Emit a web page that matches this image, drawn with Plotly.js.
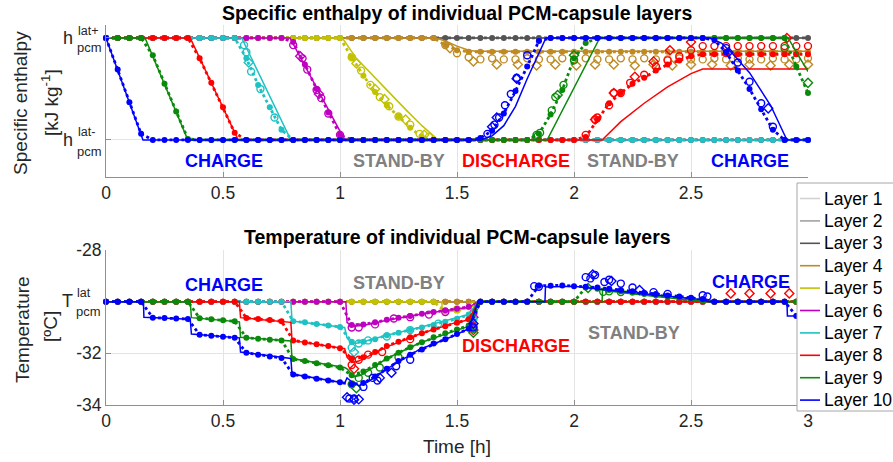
<!DOCTYPE html>
<html>
<head>
<meta charset="utf-8">
<script src="https://cdn.plot.ly/plotly-3.0.1.min.js"></script>
<style>
html, body { margin: 0; padding: 0; background: #fff; overflow: hidden; }
#chart { width: 893px; height: 462px; }
</style>
</head>
<body>
<div id="chart"></div>
<script>
// ---------------------------------------------------------------
// Layers of the PCM capsule stack
// ---------------------------------------------------------------
const layerNames = ['Layer 1', 'Layer 2', 'Layer 3', 'Layer 4', 'Layer 5',
                    'Layer 6', 'Layer 7', 'Layer 8', 'Layer 9', 'Layer 10'];
const layerColors = ['#d2d2d2', '#a3a3a3', '#545454', '#bf8a22', '#c2c200',
                     '#c000c0', '#1ec2c2', '#ff0000', '#0a8a0a', '#0000ff'];

// time axis (hours)
const xTickVals = [0, 0.5, 1, 1.5, 2, 2.5, 3];

// sampling instants of the measured series (h)
const timeGrid = [0, 0.05, 0.1, 0.15, 0.2, 0.25, 0.3, 0.35, 0.4, 0.45,
  0.5, 0.55, 0.6, 0.65, 0.7, 0.75, 0.8, 0.85, 0.9, 0.95,
  1, 1.05, 1.1, 1.15, 1.2, 1.25, 1.3, 1.35, 1.4, 1.45,
  1.5, 1.55, 1.6, 1.65, 1.7, 1.75, 1.8, 1.85, 1.9, 1.95,
  2, 2.05, 2.1, 2.15, 2.2, 2.25, 2.3, 2.35, 2.4, 2.45,
  2.5, 2.55, 2.6, 2.65, 2.7, 2.75, 2.8, 2.85, 2.9, 2.95, 3];

// ---------------------------------------------------------------
// Specific enthalpy, normalised: 0 = h_pcm^lat-, 1 = h_pcm^lat+
// ---------------------------------------------------------------
// simulated (model) curves: breakpoints per layer
const hModelTime = [
  [0, 3],
  [0, 3],
  [0, 3],
  [0, 1.41, 1.45, 1.5, 1.55, 1.58, 3],
  [0, 1.01, 1.07, 1.14, 1.21, 1.28, 1.35, 1.42, 3],
  [0, 0.786, 1.02, 3],
  [0, 0.58, 0.79, 3],
  [0, 0.36, 0.565, 2.12, 2.2, 2.3, 2.4, 2.5, 2.55, 3],
  [0, 0.167, 0.35, 1.885, 2.11, 2.915, 3],
  [0, 0.158, 1.6, 1.65, 1.7, 1.75, 1.8, 1.84, 1.88, 2.58, 2.63, 2.68, 2.75, 2.84, 2.91, 3]
];
const hModelValue = [
  [1, 1],
  [1, 1],
  [1, 1],
  [1, 1, 0.97, 0.92, 0.88, 0.87, 0.87],
  [1, 1, 0.8, 0.63, 0.47, 0.3, 0.14, 0, 0],
  [1, 1, 0, 0],
  [1, 1, 0, 0],
  [1, 1, 0, 0, 0.18, 0.36, 0.52, 0.65, 0.695, 0.695],
  [1, 1, 0, 0, 1, 1, 0.67],
  [1, 0, 0, 0.04, 0.14, 0.33, 0.6, 0.8, 1, 1, 0.95, 0.84, 0.66, 0.34, 0, 0]
];

// measured enthalpy on timeGrid (layers 1-2 not shown)
const hMeasured = [
  null,
  null,
  [1, 1, 1, 1, 1, 1, 1, 1, 1, 1,
   1, 1, 1, 1, 1, 1, 1, 1, 1, 1,
   1, 1, 1, 1, 1, 1, 1, 1, 1, 1,
   1, 1, 1, 1, 1, 1, 1, 1, 1, 1,
   1, 1, 1, 1, 1, 1, 1, 1, 1, 1,
   1, 1, 1, 1, 1, 1, 1, 1, 1, 1, 1],
  [1, 1, 1, 1, 1, 1, 1, 1, 1, 1,
   1, 1, 1, 1, 1, 1, 1, 1, 1, 1,
   1, 1, 1, 1, 1, 1, 1, 1, 1, 0.93,
   0.88, 0.865, 0.865, 0.865, 0.865, 0.865, 0.865, 0.865, 0.865, 0.865,
   0.865, 0.865, 0.865, 0.865, 0.865, 0.865, 0.865, 0.865, 0.865, 0.865,
   0.865, 0.865, 0.865, 0.865, 0.865, 0.865, 0.865, 0.865, 0.865, 0.865, 0.865],
  [1, 1, 1, 1, 1, 1, 1, 1, 1, 1,
   1, 1, 1, 1, 1, 1, 1, 1, 1, 1,
   1, 0.81, 0.63, 0.47, 0.34, 0.23, 0.12, 0.03, 0, 0,
   0, 0, 0, 0, 0, 0, 0, 0, 0, 0,
   0, 0, 0, 0, 0, 0, 0, 0, 0, 0,
   0, 0, 0, 0, 0, 0, 0, 0, 0, 0, 0],
  [1, 1, 1, 1, 1, 1, 1, 1, 1, 1,
   1, 1, 1, 1, 1, 1, 0.96, 0.74, 0.5, 0.27,
   0.05, 0, 0, 0, 0, 0, 0, 0, 0, 0,
   0, 0, 0, 0, 0, 0, 0, 0, 0, 0,
   0, 0, 0, 0, 0, 0, 0, 0, 0, 0,
   0, 0, 0, 0, 0, 0, 0, 0, 0, 0, 0],
  [1, 1, 1, 1, 1, 1, 1, 1, 1, 1,
   1, 1, 0.8, 0.54, 0.32, 0.1, 0, 0, 0, 0,
   0, 0, 0, 0, 0, 0, 0, 0, 0, 0,
   0, 0, 0, 0, 0, 0, 0, 0, 0, 0,
   0, 0, 0, 0, 0, 0, 0, 0, 0, 0,
   0, 0, 0, 0, 0, 0, 0, 0, 0, 0, 0],
  [1, 1, 1, 1, 1, 1, 1, 1, 0.8, 0.56,
   0.32, 0.07, 0, 0, 0, 0, 0, 0, 0, 0,
   0, 0, 0, 0, 0, 0, 0, 0, 0, 0,
   0, 0, 0, 0, 0, 0, 0, 0, 0, 0,
   0, 0.03, 0.2, 0.36, 0.46, 0.55, 0.61, 0.68, 0.74, 0.78,
   0.82, 0.84, 0.84, 0.84, 0.84, 0.84, 0.84, 0.84, 0.84, 0.84, 0.84],
  [1, 1, 1, 1, 0.83, 0.55, 0.28, 0.01, 0, 0,
   0, 0, 0, 0, 0, 0, 0, 0, 0, 0,
   0, 0, 0, 0, 0, 0, 0, 0, 0, 0,
   0, 0, 0, 0, 0, 0, 0, 0.06, 0.25, 0.49,
   0.8, 0.95, 1, 1, 1, 1, 1, 1, 1, 1,
   1, 1, 1, 1, 1, 1, 1, 1, 1, 0.72, 0.46],
  [1, 0.69, 0.37, 0.06, 0, 0, 0, 0, 0, 0,
   0, 0, 0, 0, 0, 0, 0, 0, 0, 0,
   0, 0, 0, 0, 0, 0, 0, 0, 0, 0,
   0, 0, 0.02, 0.09, 0.26, 0.48, 0.72, 0.97, 1, 1,
   1, 1, 1, 1, 1, 1, 1, 1, 1, 1,
   1, 1, 0.98, 0.86, 0.68, 0.5, 0.3, 0.1, 0, 0, 0]
];

// second sensor (open circles) and third sensor (open diamonds)
const hCircleTime = [
  [], [], [],
  [1.45, 1.5, 1.55, 1.6, 1.65, 1.7, 1.75, 1.8, 1.85, 1.9, 1.95, 2, 2.05, 2.1, 2.15, 2.2,
   2.25, 2.3, 2.35, 2.4, 2.45, 2.5, 2.55, 2.6, 2.65, 2.7, 2.75, 2.8, 2.85, 2.9, 2.95, 3],
  [1.05, 1.09, 1.13, 1.17, 1.21, 1.25, 1.3, 1.34, 1.38],
  [0.8, 0.84, 0.86, 0.9, 0.92, 0.95, 1.0],
  [0.59, 0.6, 0.62, 0.66, 0.72],
  [2.05, 2.09, 2.1, 2.15, 2.17, 2.2, 2.24, 2.3, 2.35, 2.4, 2.45, 2.5, 2.55, 2.6, 2.65,
   2.7, 2.75, 2.8, 2.85, 2.9, 2.95, 3],
  [1.84, 1.855, 1.905, 1.92, 1.955, 2.0, 2.9],
  [1.63, 1.66, 1.68, 1.705, 1.73, 1.755, 1.8, 2.65, 2.7, 2.75, 2.8, 2.85]
];
const hCircleValue = [
  [], [], [],
  [0.93, 0.85, 0.81, 0.79, 0.8, 0.79, 0.79, 0.8, 0.79, 0.79, 0.8, 0.79, 0.8, 0.79, 0.79, 0.8,
   0.79, 0.8, 0.79, 0.79, 0.8, 0.79, 0.79, 0.8, 0.79, 0.8, 0.79, 0.79, 0.8, 0.79, 0.79, 0.8],
  [0.81, 0.68, 0.54, 0.42, 0.33, 0.23, 0.15, 0.06, 0.03],
  [0.93, 0.8, 0.69, 0.49, 0.41, 0.26, 0.05],
  [0.93, 0.86, 0.67, 0.5, 0.22],
  [0.05, 0.2, 0.22, 0.34, 0.46, 0.46, 0.56, 0.64, 0.72, 0.78, 0.82, 0.88, 0.92, 0.92, 0.92,
   0.92, 0.92, 0.92, 0.92, 0.92, 0.92, 0.92],
  [0.05, 0.07, 0.29, 0.42, 0.54, 0.78, 0.9],
  [0.06, 0.15, 0.22, 0.34, 0.45, 0.61, 0.83, 0.9, 0.76, 0.57, 0.36, 0.13]
];
const hDiamondTime = [
  [], [], [],
  [1.47, 1.57, 1.67, 1.76, 1.84, 1.92, 2.01, 2.09, 2.17, 2.26, 2.34, 2.42, 2.5, 2.59, 2.67,
   2.75, 2.84, 2.92, 3],
  [1.07, 1.15, 1.19, 1.28, 1.36],
  [0.83, 0.91],
  [0.61],
  [2.09, 2.17, 2.26, 2.34, 2.41, 2.5, 2.91],
  [1.84, 1.93, 2.0, 3.0],
  [1.65, 1.67, 1.755, 2.66, 2.83]
];
const hDiamondValue = [
  [], [], [],
  [0.9, 0.77, 0.74, 0.74, 0.73, 0.74, 0.73, 0.74, 0.74, 0.73, 0.74, 0.73, 0.74, 0.74, 0.73,
   0.74, 0.73, 0.74, 0.74],
  [0.75, 0.5, 0.4, 0.2, 0.05],
  [0.82, 0.45],
  [0.76],
  [0.2, 0.46, 0.62, 0.77, 0.88, 0.96, 1.0],
  [0.03, 0.44, 0.83, 0.56],
  [0.13, 0.22, 0.6, 0.86, 0.31]
];

// ---------------------------------------------------------------
// Temperature (deg C); T_pcm^lat = -30
// ---------------------------------------------------------------
const tempTickVals = [-34, -32, -28];
const tempTickText = ['-34', '-32', '-28'];

const tModelTime = [
  [0, 3],
  [0, 3],
  [0, 3],
  [0, 3],
  [0, 1.435, 1.437, 1.45, 1.5, 1.55, 1.575, 1.59, 3],
  [0, 1.025, 1.03, 1.05, 1.1, 1.2, 1.35, 1.48, 1.55, 1.59, 3],
  [0, 0.79, 0.795, 1.02, 1.03, 1.05, 1.08, 1.2, 1.34, 1.48, 1.55, 1.59, 3],
  [0, 0.57, 0.575, 0.79, 0.795, 1.02, 1.03, 1.05, 1.08, 1.2, 1.34, 1.48, 1.55, 1.59, 3],
  [0, 0.36, 0.365, 0.57, 0.575, 0.79, 0.795, 1.02, 1.03, 1.06, 1.09, 1.2, 1.34, 1.48, 1.55,
   1.59, 2.12, 2.122, 2.2, 2.35, 2.5, 2.56, 3],
  [0, 0.16, 0.162, 0.36, 0.365, 0.57, 0.575, 0.79, 0.795, 1.02, 1.03, 1.05, 1.08, 1.12, 1.2,
   1.34, 1.48, 1.55, 1.59, 1.876, 1.878, 2.0, 2.14, 2.28, 2.42, 2.54, 2.58, 2.91, 2.912, 3]
];
const tModelValue = [
  [-30, -30],
  [-30, -30],
  [-30, -30],
  [-30, -30],
  [-30, -30, -30.35, -30.4, -30.33, -30.25, -30.15, -30, -30],
  [-30, -30, -30.8, -30.95, -30.92, -30.72, -30.48, -30.3, -30.22, -30, -30],
  [-30, -30, -30.75, -31.0, -31.4, -31.62, -31.6, -31.3, -31.0, -30.68, -30.5, -30, -30],
  [-30, -30, -30.62, -30.8, -31.5, -31.82, -32.15, -32.35, -32.3, -31.75, -31.25, -30.85,
   -30.7, -30, -30],
  [-30, -30, -30.62, -30.78, -31.38, -31.52, -32.2, -32.55, -32.6, -32.9, -32.85, -32.2,
   -31.6, -31.15, -30.95, -30, -30, -29.55, -29.65, -29.8, -29.94, -30, -30],
  [-30, -30, -30.6, -30.68, -31.25, -31.4, -31.95, -32.2, -32.8, -33.15, -32.95, -33.1,
   -33.25, -33.1, -32.6, -31.85, -31.35, -31.05, -30, -30, -29.43, -29.4, -29.55, -29.67,
   -29.8, -29.92, -30, -30, -30.55, -30.55]
];

const tMeasured = [
  null,
  null,
  [-30, -30, -30, -30, -30, -30, -30, -30, -30, -30,
   -30, -30, -30, -30, -30, -30, -30, -30, -30, -30,
   -30, -30, -30, -30, -30, -30, -30, -30, -30, -30,
   -30, -30, -30, -30, -30, -30, -30, -30, -30, -30,
   -30, -30, -30, -30, -30, -30, -30, -30, -30, -30,
   -30, -30, -30, -30, -30, -30, -30, -30, -30, -30, -30],
  [-30, -30, -30, -30, -30, -30, -30, -30, -30, -30,
   -30, -30, -30, -30, -30, -30, -30, -30, -30, -30,
   -30, -30, -30, -30, -30, -30, -30, -30, -30, -30,
   -30, -30, -30, -30, -30, -30, -30, -30, -30, -30,
   -30, -30, -30, -30, -30, -30, -30, -30, -30, -30,
   -30, -30, -30, -30, -30, -30, -30, -30, -30, -30, -30],
  [-30, -30, -30, -30, -30, -30, -30, -30, -30, -30,
   -30, -30, -30, -30, -30, -30, -30, -30, -30, -30,
   -30, -30, -30, -30, -30, -30, -30, -30, -30, -30.38,
   -30.32, -30.22, -30, -30, -30, -30, -30, -30, -30, -30,
   -30, -30, -30, -30, -30, -30, -30, -30, -30, -30,
   -30, -30, -30, -30, -30, -30, -30, -30, -30, -30, -30],
  [-30, -30, -30, -30, -30, -30, -30, -30, -30, -30,
   -30, -30, -30, -30, -30, -30, -30, -30, -30, -30,
   -30, -30.9, -30.88, -30.8, -30.7, -30.62, -30.55, -30.47, -30.4, -30.33,
   -30.27, -30.2, -30, -30, -30, -30, -30, -30, -30, -30,
   -30, -30, -30, -30, -30, -30, -30, -30, -30, -30,
   -30, -30, -30, -30, -30, -30, -30, -30, -30, -30, -30],
  [-30, -30, -30, -30, -30, -30, -30, -30, -30, -30,
   -30, -30, -30, -30, -30, -30, -30.76, -30.8, -30.86, -30.92,
   -30.98, -31.55, -31.55, -31.45, -31.3, -31.2, -31.1, -31.0, -30.9, -30.78,
   -30.66, -30.5, -30, -30, -30, -30, -30, -30, -30, -30,
   -30, -30, -30, -30, -30, -30, -30, -30, -30, -30,
   -30, -30, -30, -30, -30, -30, -30, -30, -30, -30, -30],
  [-30, -30, -30, -30, -30, -30, -30, -30, -30, -30,
   -30, -30, -30.63, -30.67, -30.71, -30.76, -31.5, -31.58, -31.65, -31.72,
   -31.8, -32.2, -32.15, -31.95, -31.72, -31.55, -31.38, -31.22, -31.08, -30.95,
   -30.82, -30.68, -30, -30, -30, -30, -30, -30, -30, -30,
   -30, -30, -30, -30, -30, -30, -30, -30, -30, -30,
   -30, -30, -30, -30, -30, -30, -30, -30, -30, -30, -30],
  [-30, -30, -30, -30, -30, -30, -30, -30, -30.64, -30.68,
   -30.72, -30.76, -31.4, -31.44, -31.47, -31.5, -32.22, -32.3, -32.38, -32.46,
   -32.55, -32.85, -32.7, -32.45, -32.2, -31.98, -31.76, -31.57, -31.38, -31.22,
   -31.08, -30.92, -30, -30, -30, -30, -30, -30, -30, -30,
   -30, -29.45, -29.5, -29.55, -29.6, -29.65, -29.7, -29.75, -29.8, -29.84,
   -29.88, -29.95, -30, -30, -30, -30, -30, -30, -30, -30, -30],
  [-30, -30, -30, -30, -30.62, -30.63, -30.65, -30.67, -31.28, -31.32,
   -31.36, -31.4, -31.98, -32.05, -32.12, -32.18, -32.82, -32.9, -32.98, -33.05,
   -33.12, -33.2, -33.15, -32.9, -32.6, -32.3, -32.05, -31.85, -31.62, -31.45,
   -31.25, -31.05, -30, -30, -30, -30, -30, -29.38, -29.38, -29.37,
   -29.4, -29.42, -29.45, -29.5, -29.55, -29.6, -29.65, -29.7, -29.76, -29.8,
   -29.85, -29.9, -30, -30, -30, -30, -30, -30, -30, -30.55, -30.55]
];

const tCircleTime = [
  [], [], [], [],
  [1.5, 1.57],
  [1.05, 1.08, 1.15, 1.23, 1.3, 1.38, 1.45, 1.57],
  [1.05, 1.08, 1.12, 1.2, 1.3, 1.42, 1.57],
  [1.05, 1.08, 1.12, 1.18, 1.3, 1.57],
  [1.05, 1.08, 1.12, 1.17, 1.25, 1.57, 2.125, 2.15, 2.2],
  [1.04, 1.06, 1.1, 1.14, 1.16, 1.24, 1.3, 1.57, 1.83, 1.85, 2.05, 2.07, 2.09, 2.13, 2.15,
   2.2, 2.25, 2.34, 2.4, 2.55, 2.57]
];
const tCircleValue = [
  [], [], [], [],
  [-30.3, -30.15],
  [-31.0, -31.0, -30.88, -30.65, -30.6, -30.5, -30.4, -30.45],
  [-31.78, -31.62, -31.5, -31.35, -31.1, -30.85, -30.7],
  [-32.45, -32.25, -32.05, -31.95, -31.45, -30.95],
  [-33.2, -32.95, -32.75, -32.55, -32.15, -31.05, -29.62, -29.6, -29.63],
  [-33.75, -33.75, -33.3, -32.95, -33.05, -32.5, -32.25, -31.0, -29.4, -29.42, -29.05,
   -29.1, -28.97, -29.24, -29.15, -29.3, -29.45, -29.63, -29.7, -29.75, -29.8]
];
const tDiamondTime = [
  [], [], [], [], [],
  [1.57],
  [1.06, 1.57],
  [1.06, 1.57, 2.67, 2.75, 2.84, 2.92],
  [1.07, 1.57, 2.06],
  [1.03, 1.06, 1.08, 1.17, 1.22, 1.57, 2.08, 2.16, 2.28]
];
const tDiamondValue = [
  [], [], [], [], [],
  [-30.6],
  [-31.95, -30.85],
  [-32.6, -31.1, -29.68, -29.68, -29.68, -29.68],
  [-33.35, -31.2, -29.47],
  [-33.7, -33.8, -33.78, -32.95, -32.75, -30.85, -28.95, -29.2, -29.55]
];

// operating phases
const phaseNames = ['CHARGE', 'STAND-BY', 'DISCHARGE', 'STAND-BY', 'CHARGE'];
const phaseColors = ['#0000ff', '#808080', '#ff0000', '#808080', '#0000ff'];

// ---------------------------------------------------------------
// Traces
// ---------------------------------------------------------------
const FONT = 'Liberation Sans, Arial, Helvetica, sans-serif';
const traces = [];

function addLayer(i, xa, ya, mT, mV, meas, cT, cV, dT, dV) {
  const col = layerColors[i];
  traces.push({
    x: mT[i], y: mV[i], xaxis: xa, yaxis: ya, type: 'scatter', mode: 'lines',
    name: layerNames[i], showlegend: false,
    line: { color: col, width: 1.5 }, cliponaxis: false, hoverinfo: 'skip'
  });
  if (meas[i]) {
    traces.push({
      x: timeGrid, y: meas[i], xaxis: xa, yaxis: ya, type: 'scatter', mode: 'lines+markers',
      showlegend: false,
      line: { color: col, width: 2.8, dash: 'dot' },
      marker: { color: col, size: 6, symbol: 'circle' },
      cliponaxis: false, hoverinfo: 'skip'
    });
  }
  if (cT[i].length) {
    traces.push({
      x: cT[i], y: cV[i], xaxis: xa, yaxis: ya, type: 'scatter', mode: 'markers',
      showlegend: false,
      marker: { color: col, size: 7, symbol: 'circle-open', line: { color: col, width: 1.4 } },
      cliponaxis: false, hoverinfo: 'skip'
    });
  }
  if (dT[i].length) {
    traces.push({
      x: dT[i], y: dV[i], xaxis: xa, yaxis: ya, type: 'scatter', mode: 'markers',
      showlegend: false,
      marker: { color: col, size: 7, symbol: 'diamond-open', line: { color: col, width: 1.4 } },
      cliponaxis: false, hoverinfo: 'skip'
    });
  }
}

for (let i = 0; i < layerNames.length; i++) {
  addLayer(i, 'x', 'y', hModelTime, hModelValue, hMeasured,
           hCircleTime, hCircleValue, hDiamondTime, hDiamondValue);
}
for (let i = 0; i < layerNames.length; i++) {
  addLayer(i, 'x2', 'y2', tModelTime, tModelValue, tMeasured,
           tCircleTime, tCircleValue, tDiamondTime, tDiamondValue);
}

// ---------------------------------------------------------------
// Layout (plot area spans x 106..808 px, y 25..405 px)
// ---------------------------------------------------------------
const PL = 106, PR = 808, PT = 25, PB = 405;
const px2x = p => (p - PL) / (PR - PL);
const px2y = p => (PB - p) / (PB - PT);

const AXC = '#8f8f8f';
const GRID = '#e4e4e4';
const TXT = '#262626';

function xAxis(anchor) {
  return {
    anchor: anchor, domain: [0, 1], range: [0, 3],
    tickvals: xTickVals, ticktext: xTickVals.map(String),
    showgrid: true, gridcolor: GRID, gridwidth: 1, zeroline: false,
    showline: true, linecolor: AXC, linewidth: 1,
    ticks: 'inside', ticklen: 5, tickcolor: AXC,
    tickfont: { family: FONT, size: 17.5, color: TXT }
  };
}

const annotations = [];
const shapes = [];
function label(text, xp, yp, size, color, extra) {
  annotations.push(Object.assign({
    text: text, xref: 'paper', yref: 'paper', x: px2x(xp), y: px2y(yp),
    showarrow: false, xanchor: 'center', yanchor: 'middle',
    font: { family: FONT, size: size, color: color }
  }, extra || {}));
}

// subplot titles
label('<b>Specific enthalpy of individual PCM-capsule layers</b>', 457, 13, 19.5, '#000');
label('<b>Temperature of individual PCM-capsule layers</b>', 457, 237, 19.5, '#000');

// axis titles
label('Specific enthalpy', 21, 103, 19, TXT, { textangle: -90 });
label('[kJ kg<sup>-1</sup>]', 50, 103, 19, TXT, { textangle: -90 });
label('Temperature', 22, 330, 19, TXT, { textangle: -90 });
label('[ºC]', 50, 327, 19, TXT, { textangle: -90 });
label('Time [h]', 457, 447, 19, TXT);

// symbolic tick labels
label('h', 68, 38, 18, TXT);
label('lat+', 76, 31, 12.5, TXT, { xanchor: 'left' });
label('pcm', 75, 48, 13, TXT, { xanchor: 'left' });
label('h', 68, 140, 18, TXT);
label('lat-', 76, 132, 12.5, TXT, { xanchor: 'left' });
label('pcm', 75, 151, 13, TXT, { xanchor: 'left' });
label('T', 67.5, 301, 18, TXT);
label('lat', 75, 293, 12.5, TXT, { xanchor: 'left' });
label('pcm', 74, 311, 13, TXT, { xanchor: 'left' });

// phase labels
const phaseTopX = [223.5, 399, 515.5, 632.5, 750];
const phaseBotX = [223.5, 399, 515.5, 633.5, 750.5];
const phaseBotY = [285, 283, 346, 333, 282];
phaseNames.forEach((p, k) => {
  label('<b>' + p + '</b>', phaseTopX[k], 161, 18, phaseColors[k]);
  label('<b>' + p + '</b>', phaseBotX[k], phaseBotY[k], 18, phaseColors[k]);
});

// legend box with one line sample + name per layer
const LEG_L = 797, LEG_T = 183, LEG_B = 411, LEG_ROW0 = 198.5, LEG_STEP = 22.4;
shapes.push({
  type: 'rect', xref: 'paper', yref: 'paper', layer: 'above',
  x0: px2x(LEG_L), x1: px2x(900), y0: px2y(LEG_B), y1: px2y(LEG_T),
  line: { color: '#a6a6a6', width: 1 }, fillcolor: '#ffffff'
});
layerNames.forEach((name, i) => {
  const yy = LEG_ROW0 + i * LEG_STEP;
  shapes.push({
    type: 'line', xref: 'paper', yref: 'paper', layer: 'above',
    x0: px2x(800), x1: px2x(820), y0: px2y(yy), y1: px2y(yy),
    line: { color: layerColors[i], width: 1.6 }
  });
  label(name, 822, yy, 17.5, '#000', { xanchor: 'left' });
});

const layout = {
  width: 893, height: 462,
  margin: { l: PL, r: 893 - PR, t: PT, b: 462 - PB, pad: 0, autoexpand: false },
  paper_bgcolor: '#ffffff', plot_bgcolor: '#ffffff',
  font: { family: FONT, size: 17, color: TXT },
  showlegend: false,
  xaxis: xAxis('y'),
  yaxis: {
    anchor: 'x', domain: [px2y(177), 1], range: [-0.363, 1.127],
    tickvals: [0, 1], showticklabels: false,
    showgrid: true, gridcolor: GRID, zeroline: false,
    showline: true, linecolor: AXC, ticks: 'inside', ticklen: 5, tickcolor: AXC
  },
  xaxis2: xAxis('y2'),
  yaxis2: {
    anchor: 'x2', domain: [0, px2y(250)], range: [-34, -28],
    tickvals: tempTickVals, ticktext: tempTickText,
    showgrid: true, gridcolor: GRID, zeroline: false,
    showline: true, linecolor: AXC, ticks: 'inside', ticklen: 5, tickcolor: AXC,
    tickfont: { family: FONT, size: 17.5, color: TXT }
  },
  shapes: shapes,
  annotations: annotations
};

Plotly.newPlot('chart', traces, layout, { displayModeBar: false, staticPlot: true });
</script>
</body>
</html>
